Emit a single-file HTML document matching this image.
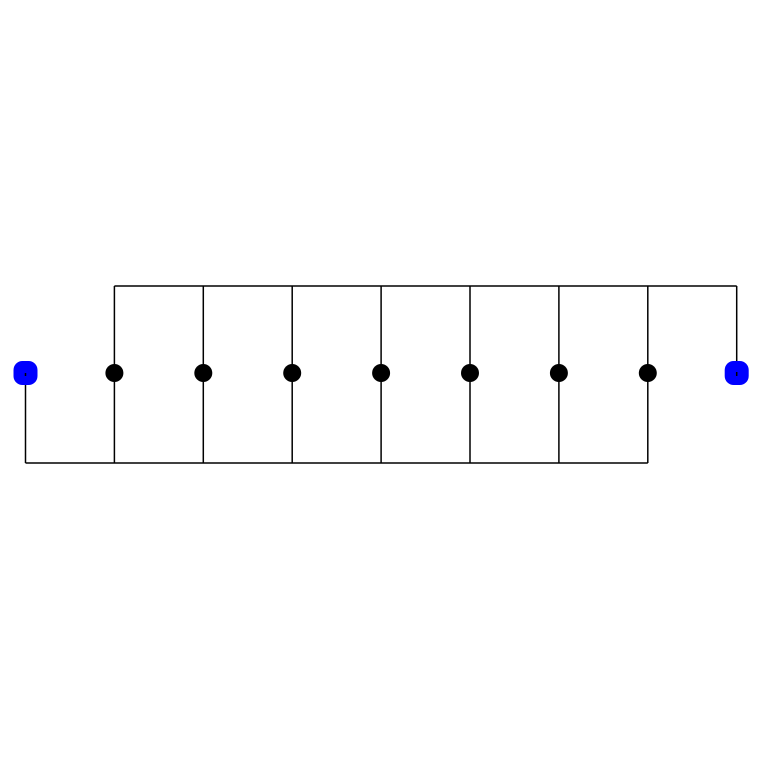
<!DOCTYPE html>
<html><head><meta charset="utf-8"><style>html,body{margin:0;padding:0;background:#fff;}svg{display:block;}</style></head>
<body>
<svg id="chart" width="760" height="760" viewBox="0 0 760 760" xmlns="http://www.w3.org/2000/svg"></svg>
<script>
const nodeIndex = [0,1,2,3,4,5,6,7,8];
const nodeType = ['terminal','inner','inner','inner','inner','inner','inner','inner','terminal'];
const topLinked = [1,2,3,4,5,6,7,8];
const bottomLinked = [0,1,2,3,4,5,6,7];
const NS='http://www.w3.org/2000/svg';
const svg=document.getElementById('chart');
const x0=25.5, dx=88.9, yMid=373, yTop=286, yBot=463;
function xs(i){return x0+i*dx;}
function mk(t,a){const e=document.createElementNS(NS,t);for(const k in a)e.setAttribute(k,a[k]);svg.appendChild(e);return e;}
// buses
let l=mk('line',{x1:xs(Math.min(...topLinked)),x2:xs(Math.max(...topLinked)),y1:yTop,y2:yTop,stroke:'#000','stroke-width':1.5});


l=mk('line',{x1:xs(Math.min(...bottomLinked)),x2:xs(Math.max(...bottomLinked)),y1:yBot,y2:yBot,stroke:'#000','stroke-width':1.5});


topLinked.forEach(i=>{const e=mk('line',{x1:xs(i),x2:xs(i),y1:yTop,y2:yMid,stroke:'#000','stroke-width':1.5});

});
bottomLinked.forEach(i=>{const e=mk('line',{x1:xs(i),x2:xs(i),y1:yMid,y2:yBot,stroke:'#000','stroke-width':1.5});

});
nodeIndex.forEach((i,k)=>{
  let e;
  if(nodeType[k]==='terminal'){
    e=mk('rect',{x:xs(i)-12,y:yMid-12,width:24,height:24,rx:9,fill:'#0000ff'});
    
  } else {
    e=mk('circle',{cx:xs(i),cy:yMid,r:9,fill:'#000'});
    
  }
  
});
// terminal edge lines drawn over blue nodes
[0,8].forEach(i=>{const y2=i===0?yMid:yMid;const e=mk('line',{x1:xs(i),x2:xs(i),y1:i===0?yMid:yMid-1,y2:i===0?yMid+3:yMid+3,stroke:'#000','stroke-width':1.5});

});
</script>
</body></html>
